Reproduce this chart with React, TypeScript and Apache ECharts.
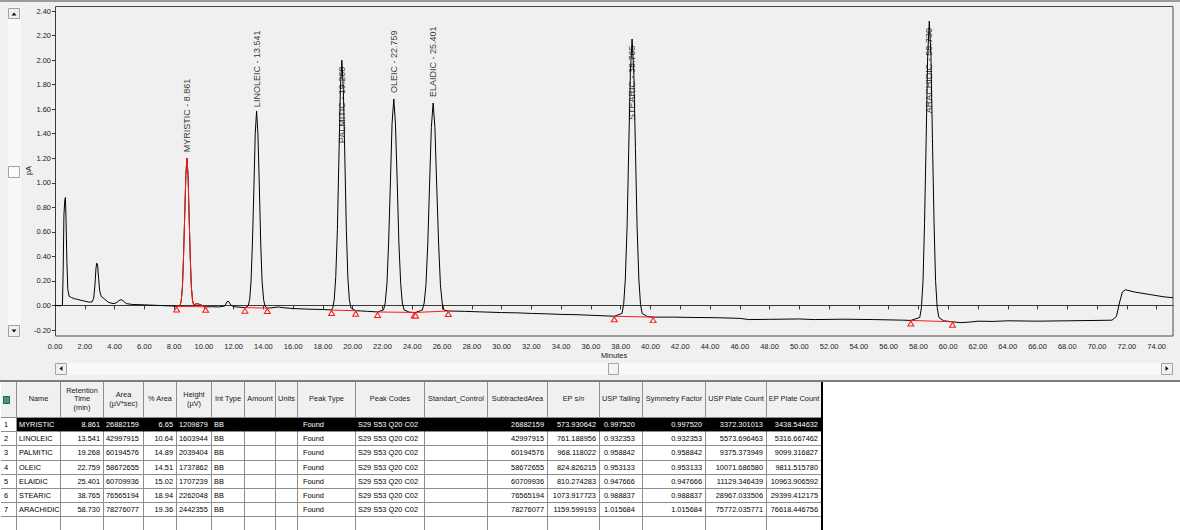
import React, { useEffect, useRef } from 'react';
import * as echarts from 'echarts';

// ---- Peak table ----
const peakNames = ['MYRISTIC', 'LINOLEIC', 'PALMITIC', 'OLEIC', 'ELAIDIC', 'STEARIC', 'ARACHIDIC'];
const retentionTimes = [8.861, 13.541, 19.268, 22.759, 25.401, 38.765, 58.73];
const peakAreas = [26882159, 42997915, 60194576, 58672655, 60709936, 76565194, 78276077];
const percentArea = [6.65, 10.64, 14.89, 14.51, 15.02, 18.94, 19.36];
const peakHeights = [1209879, 1603944, 2039404, 1737862, 1707239, 2262048, 2442355];
const intTypes = ['BB', 'BB', 'BB', 'BB', 'BB', 'BB', 'BB'];
const peakTypes = ['Found', 'Found', 'Found', 'Found', 'Found', 'Found', 'Found'];
const peakCodes = ['S29 S53 Q20 C02', 'S29 S53 Q20 C02', 'S29 S53 Q20 C02', 'S29 S53 Q20 C02', 'S29 S53 Q20 C02', 'S29 S53 Q20 C02', 'S29 S53 Q20 C02'];
const subtractedAreas = [26882159, 42997915, 60194576, 58672655, 60709936, 76565194, 78276077];
const epSignalNoise = [573.930642, 761.188956, 968.118022, 824.826215, 810.274283, 1073.917723, 1159.599193];
const uspTailing = [0.99752, 0.932353, 0.958842, 0.953133, 0.947666, 0.988837, 1.015684];
const symmetryFactor = [0.99752, 0.932353, 0.958842, 0.953133, 0.947666, 0.988837, 1.015684];
const uspPlateCount = [3372.301013, 5573.696463, 9375.373949, 10071.68658, 11129.346439, 28967.033506, 75772.035771];
const epPlateCount = [3438.544632, 5316.667462, 9099.316827, 9811.51578, 10963.906592, 29399.412175, 76618.446756];

// ---- Chromatogram ----
// baseline level (pA) under each peak apex; apex = baseline + height (µV -> pA)
const peakBaselines = [-0.01, -0.02, -0.04, -0.055, -0.057, -0.09, -0.125];
// integration start/end (min) and levels (pA)
const peakStarts = [8.17, 12.76, 18.58, 21.67, 24.22, 37.57, 57.49];
const peakEnds = [10.12, 14.26, 20.2, 24.13, 26.42, 40.18, 60.29];
const startLevels = [-0.008, -0.018, -0.037, -0.053, -0.057, -0.088, -0.122];
const endLevels = [-0.011, -0.021, -0.043, -0.057, -0.045, -0.095, -0.133];

// detector signal (min, pA); apex points come from the peak table
const traceBase: [number, number][] = [
  [0.0, 0.0], [0.3, -0.002], [0.5, 0.0], [0.55, 0.3], [0.6, 0.74], [0.66, 0.86], [0.7, 0.88], [0.74, 0.7],
  [0.8, 0.35], [0.86, 0.13], [0.95, 0.075], [1.1, 0.065], [1.3, 0.055], [1.5, 0.05], [1.7, 0.044], [2.0, 0.035],
  [2.3, 0.027], [2.5, 0.03], [2.6, 0.06], [2.68, 0.16], [2.75, 0.3], [2.8, 0.345], [2.86, 0.33], [2.93, 0.22],
  [3.0, 0.12], [3.1, 0.075], [3.3, 0.055], [3.6, 0.025], [3.9, 0.015], [4.1, 0.02], [4.3, 0.04], [4.45, 0.048],
  [4.6, 0.035], [4.8, 0.015], [5.2, 0.008], [6.0, 0.005], [7.0, 0.0], [8.0, -0.005], [8.17, -0.008], [8.3, -0.007],
  [8.41, 0.003], [8.48, 0.04], [8.56, 0.15], [8.63, 0.38], [8.71, 0.72], [8.79, 1.06],
  [8.94, 1.06], [9.01, 0.72], [9.09, 0.38], [9.16, 0.15], [9.24, 0.04], [9.31, 0.005], [9.45, 0.012], [9.6, 0.014],
  [9.8, 0.004], [10.12, -0.011], [10.5, -0.01], [11.0, -0.012], [11.4, -0.005], [11.55, 0.03], [11.65, 0.035],
  [11.8, 0.005], [12.0, -0.01], [12.5, -0.015], [12.76, -0.018],
  [12.98, -0.002], [13.08, 0.05], [13.17, 0.2], [13.26, 0.5], [13.36, 0.95], [13.45, 1.4],
  [13.63, 1.4], [13.73, 0.95], [13.82, 0.5], [13.91, 0.2], [14.01, 0.05], [14.1, -0.005], [14.26, -0.021],
  [14.5, -0.02], [15.0, -0.012], [15.3, -0.018], [16.0, -0.025], [17.0, -0.03], [18.0, -0.033], [18.58, -0.037],
  [18.66, -0.018], [18.76, 0.05], [18.86, 0.235], [18.97, 0.62], [19.07, 1.2], [19.17, 1.76],
  [19.37, 1.76], [19.47, 1.2], [19.57, 0.62], [19.67, 0.235], [19.77, 0.05], [19.87, -0.018], [20.2, -0.043],
  [20.6, -0.045], [21.0, -0.048], [21.67, -0.053],
  [22.07, -0.036], [22.18, 0.02], [22.3, 0.18], [22.41, 0.51], [22.53, 1.0], [22.64, 1.48],
  [22.87, 1.48], [22.99, 1.0], [23.1, 0.51], [23.22, 0.18], [23.33, 0.02], [23.45, -0.036], [23.8, -0.055],
  [24.13, -0.057], [24.22, -0.057],
  [24.67, -0.038], [24.8, 0.02], [24.92, 0.17], [25.04, 0.5], [25.16, 0.98], [25.28, 1.45],
  [25.52, 1.45], [25.64, 0.98], [25.77, 0.5], [25.89, 0.17], [26.01, 0.02], [26.13, -0.038], [26.42, -0.045],
  [27.5, -0.048], [28.5, -0.052], [30.0, -0.058], [31.0, -0.06], [32.0, -0.065], [33.0, -0.068], [34.0, -0.073],
  [35.0, -0.075], [36.0, -0.08], [37.0, -0.085], [37.57, -0.088],
  [38.09, -0.065], [38.2, 0.01], [38.31, 0.215], [38.43, 0.645], [38.54, 1.28], [38.65, 1.9],
  [38.88, 1.9], [38.99, 1.28], [39.1, 0.645], [39.22, 0.215], [39.33, 0.01], [39.44, -0.065], [39.8, -0.09],
  [40.18, -0.095], [41.5, -0.095], [43.0, -0.098], [44.5, -0.1], [46.0, -0.105], [46.6, -0.115], [48.0, -0.113],
  [50.0, -0.11], [51.0, -0.115], [53.0, -0.112], [55.0, -0.115], [57.0, -0.12], [57.49, -0.122],
  [58.09, -0.098], [58.2, -0.018], [58.31, 0.205], [58.41, 0.67], [58.52, 1.36], [58.62, 2.03],
  [58.84, 2.03], [58.94, 1.36], [59.05, 0.67], [59.15, 0.205], [59.26, -0.018], [59.37, -0.098], [59.7, -0.125],
  [60.29, -0.133], [60.8, -0.14], [61.5, -0.135], [62.0, -0.128], [63.0, -0.13], [64.0, -0.125], [66.0, -0.128],
  [68.0, -0.125], [70.0, -0.122], [71.0, -0.12], [71.3, -0.09], [71.5, 0.02], [71.7, 0.11], [71.9, 0.128],
  [72.5, 0.11], [73.5, 0.09], [74.5, 0.07], [75.1, 0.063],
];

// label offset above each apex, px (negative = drawn down across the peak)
const labelGaps = [6, 4, -83, 6, 6, -81, -92];
const selectedPeak = 0;

const FONT = "Arial, 'Liberation Sans', sans-serif";

const apexValues = peakHeights.map((h, i) => +(peakBaselines[i] + h / 1e6).toFixed(4));
const trace: [number, number][] = [
  ...traceBase,
  ...retentionTimes.map((t, i) => [t, apexValues[i]] as [number, number]),
].sort((a, b) => a[0] - b[0]);

const selectedTrace = trace.filter(
  ([t]) => t >= peakStarts[selectedPeak] && t <= peakEnds[selectedPeak]
);

function buildOption(): any {
  const baselineSeries = peakNames.map((n, i) => ({
    type: 'line',
    name: n + ' baseline',
    data: [
      [peakStarts[i], startLevels[i]],
      [peakEnds[i], endLevels[i]],
    ],
    symbol: 'triangle',
    symbolSize: [6, 5],
    symbolOffset: [0, 3],
    showSymbol: true,
    lineStyle: { color: '#ff1a1a', width: 1 },
    itemStyle: { color: '#f0f0f0', borderColor: '#ff1a1a', borderWidth: 1 },
    z: 4,
    silent: true,
  }));

  const btn = (x: number, y: number, w: number, h: number, fill = '#f0f0f0') => ({
    type: 'rect',
    shape: { x, y, width: w, height: h },
    style: { fill, stroke: '#a3a3a3', lineWidth: 1 },
    silent: true,
  });

  return {
    animation: false,
    backgroundColor: '#f0f0f0',
    grid: { left: 55, right: 7, top: 11, height: 319 },
    xAxis: {
      type: 'value',
      min: 0,
      max: 75.1,
      interval: 2,
      offset: 6,
      name: 'Minutes',
      nameLocation: 'middle',
      nameGap: 15,
      nameMoveOverlap: false,
      nameTextStyle: { fontSize: 7.5, color: '#222', fontFamily: FONT },
      axisLine: { show: true, lineStyle: { color: '#3a3a3a', width: 1 } },
      axisTick: { show: true, length: 4, lineStyle: { color: '#3a3a3a' } },
      axisLabel: {
        fontSize: 7.5,
        color: '#222',
        fontFamily: FONT,
        margin: 6,
        showMaxLabel: false,
        formatter: (v: number) => (Math.abs(v / 2 - Math.round(v / 2)) < 1e-6 ? v.toFixed(2) : ''),
      },
      splitLine: { show: false },
    },
    yAxis: {
      type: 'value',
      min: -0.2,
      max: 2.4,
      interval: 0.2,
      name: 'pA',
      nameLocation: 'middle',
      nameRotate: 90,
      nameGap: 23,
      nameMoveOverlap: false,
      nameTextStyle: { fontSize: 7.5, color: '#222', fontFamily: FONT },
      axisLine: { show: true, lineStyle: { color: '#3a3a3a', width: 1 } },
      axisTick: { show: true, length: 3, lineStyle: { color: '#3a3a3a' } },
      axisLabel: {
        fontSize: 7.5,
        color: '#222',
        fontFamily: FONT,
        margin: 4,
        formatter: (v: number) => v.toFixed(2),
      },
      splitLine: { show: false },
    },
    series: [
      {
        type: 'line',
        name: 'signal',
        data: trace,
        showSymbol: false,
        symbol: 'none',
        lineStyle: { color: '#000', width: 1 },
        z: 2,
        silent: true,
      },
      {
        type: 'line',
        name: 'selected',
        data: selectedTrace,
        showSymbol: false,
        symbol: 'none',
        lineStyle: { color: '#ff1a1a', width: 1 },
        z: 3,
        silent: true,
      },
      ...baselineSeries,
      {
        type: 'scatter',
        name: 'peak labels',
        symbolSize: 0,
        silent: true,
        z: 6,
        data: peakNames.map((n, i) => ({
          value: [retentionTimes[i], apexValues[i]],
          label: { distance: labelGaps[i] },
        })),
        label: {
          show: true,
          position: 'top',
          rotate: 90,
          align: 'left',
          verticalAlign: 'middle',
          fontSize: 9,
          color: '#000',
          fontFamily: FONT,
          formatter: (p: any) =>
            `${peakNames[p.dataIndex]} - ${retentionTimes[p.dataIndex].toFixed(3)}`,
        },
      },
    ],
    graphic: [
      // window edge
      { type: 'rect', shape: { x: 0, y: 0, width: 1180, height: 2 }, style: { fill: '#9a9a9a' }, silent: true },
      // plot frame
      {
        type: 'rect',
        shape: { x: 55.5, y: 6.5, width: 1117.5, height: 329.5 },
        style: { fill: 'none', stroke: '#4a4a4a', lineWidth: 1 },
        silent: true,
      },
      // vertical scroller
      { type: 'rect', shape: { x: 8, y: 7, width: 13, height: 331 }, style: { fill: '#f8f8f8' }, silent: true },
      btn(8.5, 8.5, 11, 10),
      { type: 'polygon', shape: { points: [[11.5, 15.5], [16.5, 15.5], [14, 12.5]] }, style: { fill: '#111' }, silent: true },
      btn(8.5, 166.5, 11, 11, '#fbfbfb'),
      btn(8.5, 325.5, 11, 11),
      { type: 'polygon', shape: { points: [[11.5, 329.5], [16.5, 329.5], [14, 332.5]] }, style: { fill: '#111' }, silent: true },
      // horizontal scroller
      { type: 'rect', shape: { x: 55, y: 363, width: 1118, height: 12 }, style: { fill: '#f9f9f9' }, silent: true },
      btn(55.5, 363.5, 11, 11),
      { type: 'polygon', shape: { points: [[62.5, 366], [62.5, 371], [59.5, 368.5]] }, style: { fill: '#111' }, silent: true },
      btn(1161.5, 363.5, 11, 11),
      { type: 'polygon', shape: { points: [[1165.5, 366], [1165.5, 371], [1168.5, 368.5]] }, style: { fill: '#111' }, silent: true },
      btn(608.5, 363.5, 10, 11, '#f4f4f4'),
      // panel separator
      { type: 'rect', shape: { x: 0, y: 380, width: 1180, height: 2 }, style: { fill: '#7c7c7c' }, silent: true },
    ],
  };
}

// ---- Table layout ----
const colEdges = [1, 17, 61, 104, 144, 177, 212, 245, 276, 298, 356, 425, 488, 548, 600, 643, 706, 767, 822];
const TABLE_TOP = 382;
const HEADER_H = 36;
const ROW_H = 14.2;

type Col = { title: string; align: 'left' | 'right'; pad?: number; cell: (i: number) => string };
const columns: Col[] = [
  { title: 'Name', align: 'left', cell: (i) => peakNames[i] },
  { title: 'Retention\nTime\n(min)', align: 'right', cell: (i) => retentionTimes[i].toFixed(3) },
  { title: 'Area\n(µV*sec)', align: 'left', cell: (i) => String(peakAreas[i]) },
  { title: '% Area', align: 'right', cell: (i) => percentArea[i].toFixed(2) },
  { title: 'Height\n(µV)', align: 'left', cell: (i) => String(peakHeights[i]) },
  { title: 'Int Type', align: 'left', cell: (i) => intTypes[i] },
  { title: 'Amount', align: 'left', cell: () => '' },
  { title: 'Units', align: 'left', cell: () => '' },
  { title: 'Peak Type', align: 'left', pad: 5, cell: (i) => peakTypes[i] },
  { title: 'Peak Codes', align: 'left', cell: (i) => peakCodes[i] },
  { title: 'Standart_Control', align: 'left', cell: () => '' },
  { title: 'SubtractedArea', align: 'right', cell: (i) => String(subtractedAreas[i]) },
  { title: 'EP s/n', align: 'right', cell: (i) => epSignalNoise[i].toFixed(6) },
  { title: 'USP Tailing', align: 'left', pad: 4, cell: (i) => uspTailing[i].toFixed(6) },
  { title: 'Symmetry Factor', align: 'right', cell: (i) => symmetryFactor[i].toFixed(6) },
  { title: 'USP Plate Count', align: 'right', cell: (i) => uspPlateCount[i].toFixed(6) },
  { title: 'EP Plate Count', align: 'right', cell: (i) => epPlateCount[i].toFixed(6) },
];

const cellBase: React.CSSProperties = {
  position: 'absolute',
  boxSizing: 'border-box',
  borderRight: '1px solid #8e8e8e',
  borderBottom: '1px solid #8e8e8e',
  display: 'flex',
  alignItems: 'center',
  whiteSpace: 'nowrap',
  overflow: 'hidden',
  fontFamily: FONT,
  fontSize: 7.4,
  color: '#000',
};

function PeakTable() {
  const cells: React.ReactNode[] = [];
  // header row
  cells.push(
    <div
      key="h-idx"
      style={{ ...cellBase, left: colEdges[0], top: TABLE_TOP, width: colEdges[1] - colEdges[0], height: HEADER_H, background: '#f0f0f0' }}
    >
      <div style={{ width: 5, height: 6, marginLeft: 2, background: '#3c9a8c', border: '1px solid #2a6a62' }} />
    </div>
  );
  columns.forEach((c, ci) => {
    cells.push(
      <div
        key={'h' + ci}
        style={{
          ...cellBase,
          left: colEdges[ci + 1],
          top: TABLE_TOP,
          width: colEdges[ci + 2] - colEdges[ci + 1],
          height: HEADER_H,
          background: '#f0f0f0',
          justifyContent: 'center',
          textAlign: 'center',
          whiteSpace: 'pre-line',
          lineHeight: '8.6px',
          color: '#1a1a1a',
        }}
      >
        {c.title}
      </div>
    );
  });
  // data rows + one empty row
  for (let r = 0; r < peakNames.length + 1; r++) {
    const top = TABLE_TOP + HEADER_H + r * ROW_H;
    const empty = r >= peakNames.length;
    const selected = r === selectedPeak;
    cells.push(
      <div
        key={'n' + r}
        style={{ ...cellBase, left: colEdges[0], top, width: colEdges[1] - colEdges[0], height: ROW_H, paddingLeft: 3, background: '#fff' }}
      >
        {empty ? '' : String(r + 1)}
      </div>
    );
    columns.forEach((c, ci) => {
      cells.push(
        <div
          key={'c' + r + '-' + ci}
          style={{
            ...cellBase,
            left: colEdges[ci + 1],
            top,
            width: colEdges[ci + 2] - colEdges[ci + 1],
            height: ROW_H,
            justifyContent: c.align === 'left' ? 'flex-start' : 'flex-end',
            paddingLeft: c.align === 'left' ? c.pad ?? 2 : 0,
            paddingRight: c.align === 'right' ? 3 : 0,
            background: selected ? '#000' : '#fff',
            color: selected ? '#fff' : '#000',
            borderRightColor: selected ? '#000' : '#8e8e8e',
          }}
        >
          {empty ? '' : c.cell(r)}
        </div>
      );
    });
  }
  return (
    <>
      {cells}
      <div style={{ position: 'absolute', left: 821, top: TABLE_TOP, width: 2, height: 530 - TABLE_TOP, background: '#000' }} />
    </>
  );
}

export default function App() {
  const ref = useRef<HTMLDivElement>(null);
  useEffect(() => {
    document.body.style.margin = '0';
    if (!ref.current) return;
    const chart = echarts.init(ref.current, undefined, { renderer: 'svg' });
    chart.setOption(buildOption());
    return () => chart.dispose();
  }, []);
  return (
    <div style={{ position: 'relative', width: 1180, height: 530, overflow: 'hidden', background: '#fff' }}>
      <div ref={ref} style={{ position: 'absolute', left: 0, top: 0, width: 1180, height: 382 }} />
      <PeakTable />
    </div>
  );
}
